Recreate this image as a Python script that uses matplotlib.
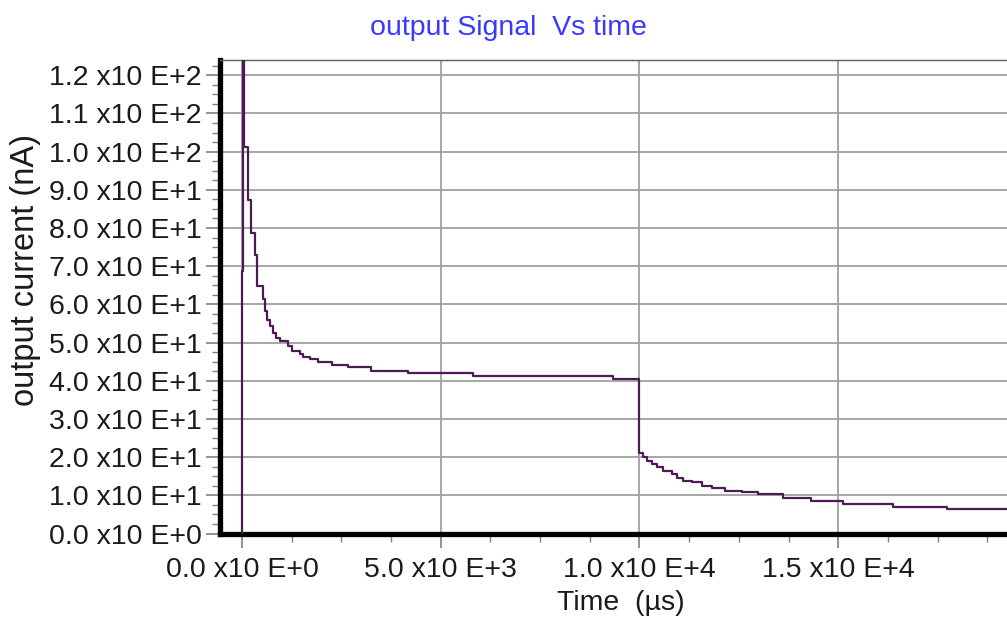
import numpy as np
import matplotlib
matplotlib.use("Agg")
import matplotlib.pyplot as plt
from matplotlib.ticker import MultipleLocator, FuncFormatter

# данные: время (мкс) начала каждой ступени и ток (нА) на ступени
time_us = [0, 25, 50, 151, 226, 327, 377, 528, 579, 629, 704, 780, 855, 956,
           1157, 1258, 1459, 1535, 1711, 1912, 2264, 2667, 3246, 4177, 5812,
           9334, 10000, 10100, 10190, 10315, 10440, 10595, 10820, 10945,
           11095, 11320, 11570, 11825, 12150, 12580, 12980, 13610, 14315,
           15120, 16380, 17740, 20000]
current_na = [68.7, 124.0, 101.2, 87.4, 78.8, 73.0, 64.7, 61.4, 58.2, 55.8,
              54.3, 52.4, 51.1, 50.3, 49.1, 47.8, 47.0, 46.2, 45.7, 44.9,
              44.1, 43.6, 42.5, 42.0, 41.3, 40.5, 21.1, 20.0, 19.0, 18.3,
              17.5, 16.4, 15.7, 14.6, 13.8, 13.4, 12.5, 12.0, 11.2, 10.8,
              10.4, 9.4, 8.6, 7.6, 7.0, 6.5, 6.5]

x_ticks = [0, 5000, 10000, 15000]
y_ticks = list(range(0, 130, 10))

title = "output Signal  Vs time"
xlabel = "Time  (µs)"
ylabel = "output current (nA)"


def sci_label(v, pos=None):
    if v == 0:
        return "0.0 x10 E+0"
    e = int(np.floor(np.log10(abs(v)) + 1e-9))
    m = v / 10 ** e
    return f"{m:.1f} x10 E+{e}"


plt.rcParams['font.family'] = ['Liberation Sans', 'DejaVu Sans']

fig = plt.figure(figsize=(10.07, 6.17), dpi=100)
W, H = 1007, 617
left, right, top, bottom = 220, 1037, 60, 533.5
ax = fig.add_axes([left / W, 1 - bottom / H, (right - left) / W, (bottom - top) / H])

ax.step([0, 0] + time_us[1:], [0] + current_na, where='post',
        color='#4d1a55', lw=1.6, zorder=3)

ax.set_xlim(-553, 20000)
ax.set_ylim(0, 124)

ax.set_xticks(x_ticks)
ax.set_yticks(y_ticks)
ax.xaxis.set_minor_locator(MultipleLocator(1250))
ax.yaxis.set_minor_locator(MultipleLocator(2.5))
ax.xaxis.set_major_formatter(FuncFormatter(sci_label))
ax.yaxis.set_major_formatter(FuncFormatter(sci_label))

ax.grid(True, which='major', color='#a0a0a0', lw=1.3, zorder=1)
ax.tick_params(which='major', length=10, width=1.2, color='#808080',
               labelsize=20.5, labelcolor='#1a1a1a', pad=3)
ax.tick_params(axis='x', which='major', pad=7)
ax.tick_params(which='minor', length=6, width=1.0, color='#808080')

for s in ('left', 'bottom'):
    ax.spines[s].set_linewidth(3.8)
    ax.spines[s].set_color('black')
ax.spines['top'].set_linewidth(1.0)
ax.spines['top'].set_color('#606060')
ax.spines['right'].set_visible(False)

fig.text(621 / W, 1 - 603 / H, xlabel, ha='center', va='center',
         fontsize=20.5, color='#1a1a1a')
fig.text(26 / W, 1 - 270 / H, ylabel, ha='center', va='center',
         rotation=90, fontsize=23.5, color='#1a1a1a')
fig.text(508 / W, 1 - 28 / H, title, ha='center', va='center',
         fontsize=20.5, color='#3a3aff')

fig.savefig("out.png", dpi=100)
